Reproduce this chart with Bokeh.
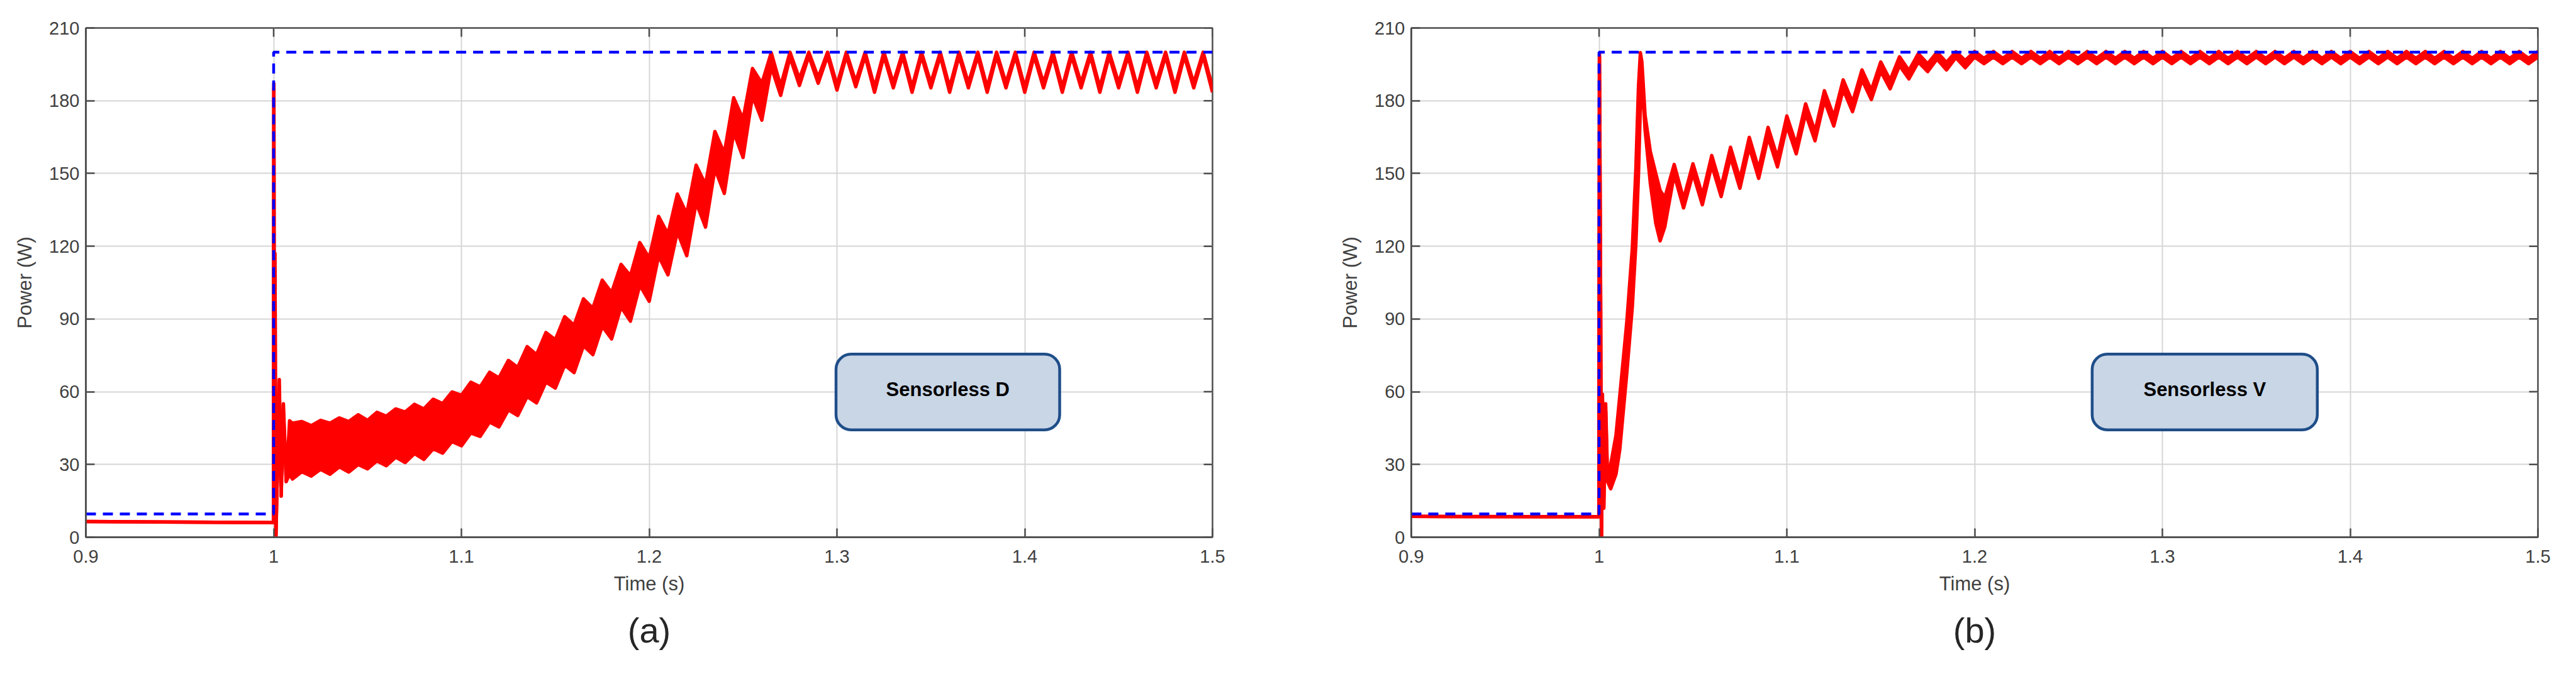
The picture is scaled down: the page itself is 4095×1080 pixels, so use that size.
import math
from bokeh.plotting import figure
from bokeh.models import Range1d, FixedTicker, BoxAnnotation, Label, Title
from bokeh.layouts import row
from bokeh.embed import file_html
from bokeh.resources import INLINE

# ---------------- data ----------------
x_ticks = [0.9, 1.0, 1.1, 1.2, 1.3, 1.4, 1.5]
x_tick_labels = ["0.9", "1", "1.1", "1.2", "1.3", "1.4", "1.5"]
y_ticks = [0, 30, 60, 90, 120, 150, 180, 210]
x_lim = [0.9, 1.5]
y_lim = [0, 210]

# reference power (blue dashed)
ref_t = [0.9, 1.0, 1.0, 1.5]
ref_p = [9.6, 9.6, 200.0, 200.0]

# (a) Sensorless D : measured power, upper / lower envelope of the ripple band
t_a = [0.9, 0.9999, 1.0001, 1.0004, 1.0007, 1.0012, 1.0030, 1.0040, 1.0052, 1.0067, 1.0085,
       1.010, 1.015, 1.020, 1.025, 1.030, 1.035, 1.040, 1.045, 1.050, 1.055,
       1.060, 1.065, 1.070, 1.075, 1.080, 1.085, 1.090, 1.095, 1.100, 1.105,
       1.110, 1.115, 1.120, 1.125, 1.130, 1.135, 1.140, 1.145, 1.150, 1.155,
       1.160, 1.165, 1.170, 1.175, 1.180, 1.185, 1.190, 1.195, 1.200, 1.205,
       1.210, 1.215, 1.220, 1.225, 1.230, 1.235, 1.240, 1.245, 1.250, 1.255,
       1.260, 1.265, 1.270, 1.275, 1.280, 1.285, 1.290, 1.295, 1.300, 1.305,
       1.310, 1.315, 1.320, 1.325, 1.330, 1.335, 1.340, 1.345, 1.350, 1.355,
       1.360, 1.365, 1.370, 1.375, 1.380, 1.385, 1.390, 1.395, 1.400, 1.405,
       1.410, 1.415, 1.420, 1.425, 1.430, 1.435, 1.440, 1.445, 1.450, 1.455,
       1.460, 1.465, 1.470, 1.475, 1.480, 1.485, 1.490, 1.495, 1.500]
up_a = [6.5, 6.0, 187.0, 30.0, 117.0, 0.0, 65.0, 17.0, 55.0, 23.0, 48.0,
        47.0, 47.7, 46.0, 48.2, 47.0, 49.2, 47.7, 50.5, 48.2, 51.5,
        49.9, 52.9, 51.6, 54.8, 52.9, 56.9, 55.1, 59.9, 58.5, 63.9,
        62.0, 68.0, 65.7, 72.9, 70.0, 78.6, 75.3, 84.4, 81.4, 90.9,
        87.4, 98.3, 94.4, 106.0, 100.8, 112.5, 107.8, 121.5, 115.1, 132.3,
        125.0, 141.5, 133.3, 153.4, 145.4, 167.3, 158.3, 181.2, 172.3, 193.3,
        187.2, 199.8, 186.0, 200.0, 189.0, 200.0, 189.5, 200.0, 186.5, 200.0,
        187.8, 200.0, 185.5, 200.0, 187.3, 200.0, 185.5, 200.0, 187.3, 200.0,
        185.5, 200.0, 187.3, 200.0, 185.5, 200.0, 187.3, 200.0, 185.5, 200.0,
        187.3, 200.0, 185.5, 200.0, 187.3, 200.0, 185.5, 200.0, 187.3, 200.0,
        185.5, 200.0, 187.3, 200.0, 185.5, 200.0, 187.3, 200.0, 185.5]
lo_a = [6.5, 6.0, 185.0, 30.0, 110.0, 0.0, 62.0, 17.0, 52.0, 23.0, 26.0,
        24.0, 27.0, 25.2, 28.0, 26.0, 29.0, 26.9, 30.0, 28.2, 31.5,
        29.5, 33.0, 30.8, 34.5, 32.1, 36.5, 34.7, 39.5, 37.7, 43.0,
        41.6, 47.5, 45.5, 52.5, 50.2, 58.0, 55.4, 64.0, 61.5, 71.0,
        67.9, 79.0, 75.3, 87.0, 81.8, 95.0, 89.1, 104.0, 97.3, 116.0,
        108.2, 126.0, 116.1, 138.0, 127.9, 152.0, 141.8, 167.0, 156.6, 182.0,
        172.0, 194.0, 182.2, 198.0, 186.3, 198.5, 187.2, 198.5, 184.4, 198.5,
        185.8, 198.5, 183.5, 198.5, 185.3, 198.5, 183.5, 198.5, 185.3, 198.5,
        183.5, 198.5, 185.3, 198.5, 183.5, 198.5, 185.3, 198.5, 183.5, 198.5,
        185.3, 198.5, 183.5, 198.5, 185.3, 198.5, 183.5, 198.5, 185.3, 198.5,
        183.5, 198.5, 185.3, 198.5, 183.5, 198.5, 185.3, 198.5, 183.5]

# (b) Sensorless V
t_b = [0.9, 0.9999, 1.0002, 1.0008, 1.0013, 1.0018, 1.0025, 1.0035, 1.0045, 1.0062,
       1.0090, 1.0110, 1.0148, 1.0177, 1.0196, 1.0210, 1.0220, 1.0228, 1.0245, 1.0273,
       1.0302, 1.0325, 1.0350,
       1.040, 1.045, 1.050, 1.055, 1.060, 1.065, 1.070, 1.075, 1.080, 1.085,
       1.090, 1.095, 1.100, 1.105, 1.110, 1.115, 1.120, 1.125, 1.130, 1.135,
       1.140, 1.145, 1.150, 1.155, 1.160, 1.165, 1.170, 1.175, 1.180, 1.185,
       1.190, 1.195, 1.200, 1.205, 1.210, 1.215, 1.220, 1.225, 1.230, 1.235,
       1.240, 1.245, 1.250, 1.255, 1.260, 1.265, 1.270, 1.275, 1.280, 1.285,
       1.290, 1.295, 1.300, 1.305, 1.310, 1.315, 1.320, 1.325, 1.330, 1.335,
       1.340, 1.345, 1.350, 1.355, 1.360, 1.365, 1.370, 1.375, 1.380, 1.385,
       1.390, 1.395, 1.400, 1.405, 1.410, 1.415, 1.420, 1.425, 1.430, 1.435,
       1.440, 1.445, 1.450, 1.455, 1.460, 1.465, 1.470, 1.475, 1.480, 1.485,
       1.490, 1.495, 1.500]
up_b = [8.6, 8.4, 199.5, 100.0, 0.0, 59.0, 12.0, 55.0, 25.0, 30.0,
        42.0, 58.0, 89.0, 119.0, 152.0, 186.0, 199.8, 196.0, 174.0, 159.0,
        150.0, 143.0, 140.0,
        153.7, 139.5, 154.0, 141.0, 157.4, 144.3, 160.8, 147.7, 164.9, 151.8,
        169.0, 156.5, 173.7, 161.9, 178.7, 167.3, 184.1, 173.4, 188.6, 179.3,
        192.7, 184.3, 196.0, 188.5, 198.1, 192.4, 199.4, 195.2, 200.0, 195.8,
        200.2, 196.6, 200.3, 197.5, 200.3, 197.5, 200.3, 197.5, 200.3, 197.5,
        200.3, 197.5, 200.3, 197.5, 200.3, 197.5, 200.3, 197.5, 200.3, 197.5,
        200.3, 197.5, 200.3, 197.5, 200.3, 197.5, 200.3, 197.5, 200.3, 197.5,
        200.3, 197.5, 200.3, 197.5, 200.3, 197.5, 200.3, 197.5, 200.3, 197.5,
        200.3, 197.5, 200.3, 197.5, 200.3, 197.5, 200.3, 197.5, 200.3, 197.5,
        200.3, 197.5, 200.3, 197.5, 200.3, 197.5, 200.3, 197.5, 200.3, 197.5,
        200.3, 197.5, 200.3]
lo_b = [8.6, 8.4, 198.0, 100.0, 0.0, 57.0, 12.0, 52.0, 23.0, 20.0,
        26.0, 36.0, 68.0, 95.0, 121.0, 150.0, 178.0, 190.0, 168.0, 146.0,
        129.5, 122.2, 128.0,
        149.5, 135.8, 150.0, 137.1, 153.4, 140.5, 156.8, 143.9, 160.9, 148.0,
        165.0, 152.7, 169.7, 158.1, 174.7, 163.5, 180.1, 169.6, 184.6, 175.5,
        188.7, 180.5, 192.2, 184.9, 194.5, 189.0, 196.0, 192.0, 197.2, 192.7,
        197.8, 193.6, 198.0, 195.3, 198.0, 195.3, 198.0, 195.3, 198.0, 195.3,
        198.0, 195.3, 198.0, 195.3, 198.0, 195.3, 198.0, 195.3, 198.0, 195.3,
        198.0, 195.3, 198.0, 195.3, 198.0, 195.3, 198.0, 195.3, 198.0, 195.3,
        198.0, 195.3, 198.0, 195.3, 198.0, 195.3, 198.0, 195.3, 198.0, 195.3,
        198.0, 195.3, 198.0, 195.3, 198.0, 195.3, 198.0, 195.3, 198.0, 195.3,
        198.0, 195.3, 198.0, 195.3, 198.0, 195.3, 198.0, 195.3, 198.0, 195.3,
        198.0, 195.3, 198.0]

# ---------------- styling ----------------
FONT = "Liberation Sans"
AX = "#4d4d4d"
TXT = "#404040"
RED = "#ff0000"
BLUE = "#0000ff"
GRID = "#d6d6d6"
TICK_LEN = 14


def style_axis(ax, ticks):
    ax.ticker = FixedTicker(ticks=ticks)
    ax.axis_line_color = AX
    ax.axis_line_width = 2.5
    ax.major_tick_line_color = AX
    ax.major_tick_line_width = 2.5
    ax.major_tick_in = TICK_LEN
    ax.major_tick_out = 0
    ax.minor_tick_in = 0
    ax.minor_tick_out = 0
    ax.minor_tick_line_color = None
    ax.major_label_text_font = FONT
    ax.major_label_text_color = TXT
    ax.major_label_text_font_size = "29px"
    ax.axis_label_text_font = FONT
    ax.axis_label_text_font_style = "normal"
    ax.axis_label_text_font_size = "31px"
    ax.axis_label_text_color = TXT


def panel(t, up, lo, box_left, box_right, box_text, caption, width, b_left, b_right):
    p = figure(width=width, height=1080, output_backend="svg", toolbar_location=None,
               x_range=Range1d(*x_lim), y_range=Range1d(*y_lim),
               min_border_left=b_left, min_border_right=b_right,
               min_border_top=44, min_border_bottom=226)
    p.outline_line_color = AX
    p.outline_line_width = 2.5

    style_axis(p.xaxis[0], x_ticks)
    style_axis(p.yaxis[0], y_ticks)
    p.xaxis[0].major_label_overrides = dict(zip(x_ticks, x_tick_labels))
    p.xaxis[0].axis_label = "Time (s)"
    p.yaxis[0].axis_label = "Power (W)"
    p.xaxis[0].major_label_standoff = 20
    p.xaxis[0].axis_label_standoff = 13
    p.yaxis[0].major_label_standoff = 10
    p.yaxis[0].axis_label_standoff = 18

    p.xgrid.ticker = FixedTicker(ticks=x_ticks)
    p.ygrid.ticker = FixedTicker(ticks=y_ticks)
    p.xgrid.grid_line_color = GRID
    p.ygrid.grid_line_color = GRID
    p.xgrid.grid_line_width = 2
    p.ygrid.grid_line_width = 2

    # inward tick marks on the top and right edges of the box (MATLAB style)
    p.ray(x=x_ticks, y=[y_lim[1]] * len(x_ticks), length=TICK_LEN, length_units="screen",
          angle=-math.pi / 2, line_color=AX, line_width=2.5)
    p.ray(x=[x_lim[1]] * len(y_ticks), y=y_ticks, length=TICK_LEN, length_units="screen",
          angle=math.pi, line_color=AX, line_width=2.5)

    p.varea(x=t, y1=lo, y2=up, fill_color=RED)
    p.line(t, up, line_color=RED, line_width=5.5, line_join="round")
    p.line(t, lo, line_color=RED, line_width=5.5, line_join="round")
    p.line(ref_t, ref_p, line_color=BLUE, line_width=4.5, line_dash="16 11")

    box = BoxAnnotation(left=box_left, right=box_right, bottom=44.3, top=75.5,
                        fill_color="#c9d6e6", fill_alpha=1.0,
                        line_color="#1f4e89", line_alpha=1.0, line_width=4.5,
                        border_radius=24)
    p.add_layout(box)
    p.add_layout(Label(x=(box_left + box_right) / 2, y=60.8, text=box_text,
                       text_align="center", text_baseline="middle",
                       text_font=FONT, text_font_style="bold",
                       text_font_size="31px", text_color="black"))

    cap = Title(text=caption, align="center", text_font=FONT,
                text_font_size="56px", text_font_style="normal",
                text_color="#262626", standoff=40)
    p.add_layout(cap, "below")
    return p


pa = panel(t_a, up_a, lo_a, 1.2995, 1.4186, "Sensorless D", "(a)", 2048, 136, 121)
pb = panel(t_b, up_b, lo_b, 1.2626, 1.3825, "Sensorless V", "(b)", 2047, 195, 61)

layout = row(pa, pb)
open("out.html", "w").write(file_html(layout, INLINE))
